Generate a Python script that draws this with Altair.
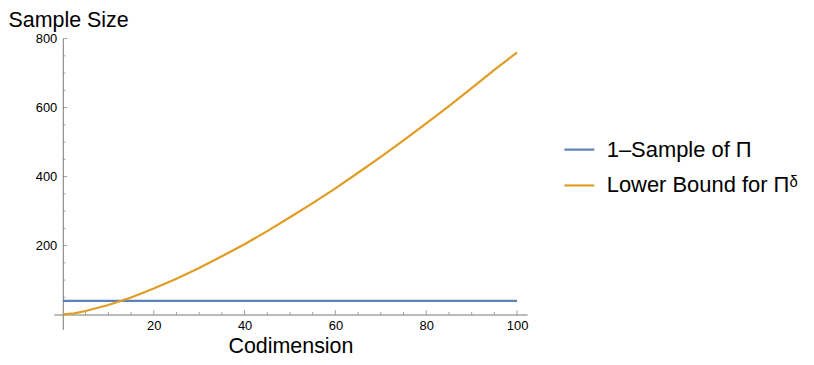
import altair as alt
import pandas as pd

# ---- data ----
codim = [0, 2.5, 5, 10, 15, 20, 25, 30, 35, 40, 45, 50, 55, 60, 65, 70, 75, 80, 85, 90, 95, 100]
lower_bound = [1, 3.8, 10.3, 27.8, 49.8, 75.4, 104, 135, 169, 204, 242, 282, 323, 366, 411, 457, 505, 554, 604, 656, 709, 760]
one_sample_x = [0, 100]
one_sample_y = [40, 40]

series_names = ["1\u2013Sample of \u03a0", "Lower Bound for \u03a0\u1d5f"]
series_colors = ["#5E81B5", "#E19C24"]

x_major = [20, 40, 60, 80, 100]
x_minor = [5, 10, 15, 25, 30, 35, 45, 50, 55, 65, 70, 75, 85, 90, 95]
y_major = [200, 400, 600, 800]
y_minor = [50, 100, 150, 250, 300, 350, 450, 500, 550, 650, 700, 750]

rows = []
for x, y in zip(one_sample_x, one_sample_y):
    rows.append({"x": x, "y": y, "series": series_names[0]})
for x, y in zip(codim, lower_bound):
    rows.append({"x": x, "y": y, "series": series_names[1]})
df = pd.DataFrame(rows)

FONT = "Liberation Sans"
AXIS_GRAY = "#777777"

xscale = alt.Scale(domain=[-2, 102.2], nice=False, zero=False)
yscale = alt.Scale(domain=[-43, 800], nice=False, zero=False)

lines = alt.Chart(df).mark_line(strokeWidth=2.2).encode(
    x=alt.X("x:Q", scale=xscale, axis=alt.Axis(
        values=x_major, offset=-15, ticks=False, tickSize=0, grid=False,
        domainColor=AXIS_GRAY, labelPadding=5, labelFontSize=13, labelColor="black",
        labelFont=FONT, title="Codimension", titleFont=FONT, titleFontSize=21.5,
        titleFontWeight="normal", titleColor="black", titleBaseline="alphabetic", titleY=38.5)),
    y=alt.Y("y:Q", scale=yscale, axis=alt.Axis(
        values=y_major, offset=-9, ticks=False, tickSize=0, grid=False,
        domainColor=AXIS_GRAY, labelPadding=6, labelFontSize=13, labelColor="black",
        labelFont=FONT, title="Sample Size", titleFont=FONT, titleFontSize=21.5,
        titleFontWeight="normal", titleColor="black", titleAngle=0, titleAlign="left",
        titleBaseline="alphabetic", titleX=-55, titleY=-12)),
    color=alt.Color("series:N", scale=alt.Scale(domain=series_names, range=series_colors),
                    legend=alt.Legend(title=None, orient="none", legendX=511, legendY=95,
                                      symbolType="stroke", symbolSize=900, symbolStrokeWidth=2.2,
                                      labelFont=FONT, labelFontSize=22, labelColor="black",
                                      labelOffset=11, rowPadding=8, padding=0, labelLimit=400)),
    order="x:Q",
)

xt_major = alt.Chart(pd.DataFrame({"x": x_major})).mark_tick(
    orient="vertical", size=4.3, thickness=1, color=AXIS_GRAY, yOffset=-2.15).encode(
    x=alt.X("x:Q", scale=xscale), y=alt.datum(0))
xt_minor = alt.Chart(pd.DataFrame({"x": x_minor})).mark_tick(
    orient="vertical", size=2.5, thickness=1, color=AXIS_GRAY, yOffset=-1.25).encode(
    x=alt.X("x:Q", scale=xscale), y=alt.datum(0))
yt_major = alt.Chart(pd.DataFrame({"y": y_major})).mark_tick(
    orient="horizontal", size=4.3, thickness=1, color=AXIS_GRAY, xOffset=2.15).encode(
    y=alt.Y("y:Q", scale=yscale), x=alt.datum(0))
yt_minor = alt.Chart(pd.DataFrame({"y": y_minor})).mark_tick(
    orient="horizontal", size=2.5, thickness=1, color=AXIS_GRAY, xOffset=1.25).encode(
    y=alt.Y("y:Q", scale=yscale), x=alt.datum(0))

chart = alt.layer(xt_major, xt_minor, yt_major, yt_minor, lines).properties(
    width=475, height=292,
    autosize=alt.AutoSizeParams(type="none"),
    padding={"left": 46, "top": 30, "right": 280, "bottom": 27},
).configure(font=FONT, view={"stroke": None})

chart.save("out.html", embed_options={"renderer": "svg", "actions": False})
